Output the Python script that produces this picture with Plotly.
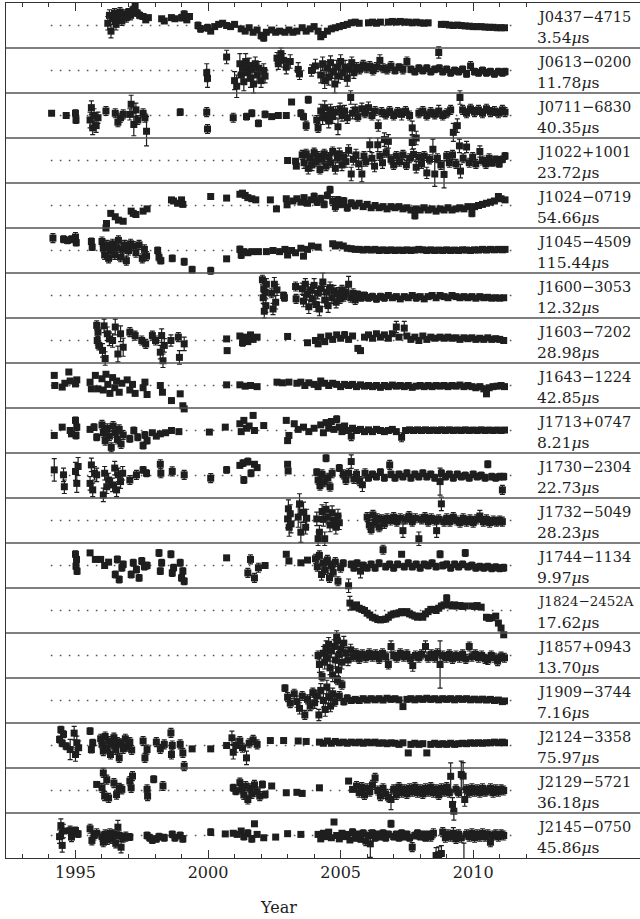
import plotly.graph_objects as go

# Pulsar names and residual scale labels (top to bottom)
PULSARS = ["J0437\u22124715", "J0613\u22120200", "J0711\u22126830", "J1022+1001",
           "J1024\u22120719", "J1045\u22124509", "J1600\u22123053", "J1603\u22127202",
           "J1643\u22121224", "J1713+0747", "J1730\u22122304", "J1732\u22125049",
           "J1744\u22121134", "J1824\u22122452A", "J1857+0943", "J1909\u22123744",
           "J2124\u22123358", "J2129\u22125721", "J2145\u22120750"]
SCALES_US = ["3.54", "11.78", "40.35", "23.72", "54.66", "115.44", "12.32", "28.98",
             "42.85", "8.21", "22.73", "28.23", "9.97", "17.62", "13.70", "7.16",
             "75.97", "36.18", "45.86"]

MAJOR_YEARS = [1995, 2000, 2005, 2010]
MINOR_YEARS = list(range(1993, 2013))

# Residuals per pulsar: (year, residual, error), residual in units of half panel height
J0437_4715 = [(1996.22,0.10,0.30),(1996.28,0.45,0.25),(1996.34,-0.25,0.3),(1996.40,0.30,0.25),(1996.47,0.55,0.2),(1996.53,0.05,0.25),(1996.60,0.35,0.2),(1996.68,0.60,0.2),(1996.75,0.20,0.2),(1996.83,0.50,0.2),(1996.92,0.35,0.2),(1997.00,0.60,0.15),(1997.08,0.45,0.2),(1997.17,0.70,0.15),(1997.25,0.85,0.15),(1997.33,0.55,0.15),(1997.42,0.45,0.15),(1997.55,0.40,0.1),(1997.65,0.25,0.1),(1997.75,0.35,0.1),(1998.25,0.30,0.1),(1998.35,0.20,0.1),(1998.62,0.35,0.1),(1998.75,0.30,0.1),(1999.00,0.35,0.15),(1999.10,0.50,0.15),(1999.20,0.25,0.1),(1999.30,0.40,0.1),(1999.62,0.00,0.15),(1999.72,-0.15,0.15),(1999.98,-0.10,0.15),(2000.10,-0.25,0.1),(2000.25,-0.05,0.1),(2000.40,0.05,0.1),(2000.55,0.10,0.1),(2000.70,0.00,0.1),(2000.85,-0.05,0.1),(2001.00,0.05,0.1),(2001.25,-0.15,0.1),(2001.40,-0.25,0.1),(2001.55,-0.10,0.1),(2001.70,-0.30,0.1),(2001.85,-0.20,0.1),(2002.00,-0.45,0.15),(2002.10,-0.55,0.15),(2002.20,-0.30,0.1),(2002.40,-0.20,0.1),(2002.55,-0.30,0.1),(2002.70,-0.25,0.1),(2002.90,-0.30,0.1),(2003.05,-0.20,0.1),(2003.20,-0.30,0.1),(2003.35,-0.25,0.1),(2003.55,-0.10,0.1),(2003.70,-0.25,0.1),(2003.85,-0.15,0.1),(2004.00,-0.05,0.1),(2004.15,-0.25,0.1),(2004.25,-0.50,0.1),(2004.35,-0.40,0.1),(2004.50,-0.25,0.1),(2004.65,-0.15,0.1),(2004.80,-0.10,0.1),(2004.95,-0.05,0.1),(2005.10,0.00,0.1),(2005.25,0.05,0.1),(2005.40,0.12,0.08),(2005.55,0.15,0.08),(2005.70,0.10,0.08),(2006.05,0.12,0.06),(2006.20,0.15,0.06),(2006.35,0.10,0.06),(2006.50,0.15,0.06),(2006.80,0.15,0.05),(2006.95,0.18,0.05),(2007.10,0.15,0.05),(2007.25,0.18,0.05),(2007.40,0.15,0.05),(2007.55,0.15,0.05),(2007.70,0.12,0.05),(2007.85,0.15,0.05),(2008.00,0.12,0.05),(2008.15,0.10,0.05),(2008.30,0.12,0.05),(2008.80,0.05,0.05),(2008.95,0.05,0.05),(2009.10,0.02,0.05),(2009.25,0.00,0.05),(2009.40,0.02,0.05),(2009.55,0.00,0.05),(2009.70,-0.02,0.05),(2009.85,-0.03,0.05),(2010.00,-0.05,0.05),(2010.15,-0.05,0.05),(2010.30,-0.05,0.05),(2010.45,-0.07,0.05),(2010.60,-0.08,0.05),(2010.75,-0.08,0.05),(2010.90,-0.10,0.05),(2011.05,-0.10,0.05),(2011.18,-0.10,0.05)]

J0613_0200 = [(1999.95,-0.10,0.4),(1999.98,-0.35,0.4),(2000.70,0.60,0.3),(2001.00,-0.45,0.4),(2001.08,-0.70,0.5),(2001.20,0.30,0.45),(2001.25,-0.20,0.4),(2001.30,0.10,0.3),(2001.35,-0.50,0.4),(2001.42,0.40,0.35),(2001.48,-0.10,0.3),(2001.55,0.20,0.35),(2001.60,-0.35,0.4),(2001.66,0.05,0.3),(2001.72,-0.60,0.4),(2001.78,0.30,0.3),(2001.85,-0.20,0.35),(2001.92,0.10,0.3),(2002.00,-0.45,0.3),(2002.10,0.00,0.3),(2002.15,-0.25,0.3),(2002.60,0.55,0.25),(2002.65,0.30,0.25),(2002.75,0.75,0.25),(2002.85,0.45,0.3),(2002.95,0.15,0.3),(2003.10,0.40,0.3),(2003.40,0.05,0.3),(2003.45,-0.15,0.25),(2003.90,0.00,0.25),(2004.05,0.20,0.3),(2004.25,-0.20,0.35),(2004.32,0.30,0.3),(2004.40,-0.45,0.35),(2004.48,0.10,0.3),(2004.55,-0.30,0.35),(2004.62,0.35,0.3),(2004.70,-0.05,0.3),(2004.78,-0.60,0.4),(2004.85,0.15,0.3),(2004.92,-0.25,0.3),(2005.00,0.40,0.3),(2005.08,-0.10,0.3),(2005.17,0.15,0.3),(2005.25,-0.35,0.35),(2005.33,0.05,0.25),(2005.42,0.35,0.25),(2005.50,-0.10,0.25),(2005.60,0.15,0.2),(2005.72,0.05,0.2),(2005.85,0.25,0.2),(2005.98,0.10,0.2),(2006.10,0.20,0.2),(2006.22,0.00,0.2),(2006.35,0.15,0.2),(2006.48,0.45,0.25),(2006.60,0.10,0.2),(2006.75,0.05,0.2),(2006.90,0.20,0.2),(2007.05,0.00,0.15),(2007.20,0.15,0.15),(2007.35,0.05,0.2),(2007.50,0.40,0.2),(2007.65,0.05,0.15),(2007.80,-0.05,0.15),(2007.95,0.10,0.15),(2008.10,0.00,0.15),(2008.25,0.10,0.15),(2008.40,-0.05,0.15),(2008.55,0.05,0.15),(2008.70,0.80,0.25),(2008.72,0.10,0.15),(2008.85,-0.05,0.15),(2009.00,0.05,0.15),(2009.15,-0.10,0.15),(2009.30,0.00,0.15),(2009.45,-0.05,0.15),(2009.60,0.05,0.15),(2009.75,-0.15,0.15),(2009.90,0.20,0.2),(2010.05,-0.05,0.15),(2010.20,-0.10,0.15),(2010.35,0.00,0.15),(2010.50,-0.10,0.15),(2010.65,-0.05,0.15),(2010.80,-0.15,0.15),(2010.95,-0.05,0.15),(2011.10,-0.10,0.15),(2011.20,-0.05,0.15)]

J0711_6830 = [(1994.10,0.10,0.1),(1994.65,0.00,0.1),(1995.00,0.10,0.15),(1995.02,-0.20,0.15),(1995.55,-0.20,0.35),(1995.60,0.35,0.3),(1995.65,-0.55,0.3),(1995.70,0.00,0.3),(1995.78,-0.45,0.3),(1995.85,-0.10,0.25),(1996.15,0.20,0.2),(1996.50,0.10,0.2),(1996.60,-0.30,0.2),(1996.70,-0.10,0.2),(1996.80,0.05,0.2),(1997.05,0.05,0.25),(1997.10,0.50,0.4),(1997.20,-0.40,0.5),(1997.28,0.25,0.3),(1997.35,-0.20,0.2),(1997.55,0.10,0.2),(1997.62,-0.10,0.2),(1997.68,-0.70,0.65),(1998.95,0.15,0.15),(1999.95,0.15,0.2),(1999.98,-0.60,0.2),(2000.95,-0.10,0.2),(2001.45,-0.05,0.15),(2001.65,0.10,0.15),(2001.90,-0.35,0.15),(2002.15,0.05,0.15),(2002.40,-0.05,0.1),(2002.65,0.00,0.1),(2002.95,0.00,0.1),(2003.15,0.60,0.1),(2003.50,0.10,0.15),(2003.60,-0.05,0.15),(2003.70,-0.45,0.2),(2003.78,0.70,0.15),(2004.10,-0.20,0.2),(2004.15,-0.55,0.2),(2004.25,0.20,0.3),(2004.32,-0.10,0.3),(2004.40,0.35,0.3),(2004.48,0.00,0.25),(2004.55,-0.25,0.3),(2004.62,0.25,0.25),(2004.70,-0.05,0.3),(2004.80,0.15,0.25),(2004.90,-0.50,0.35),(2004.98,0.30,0.25),(2005.05,0.00,0.25),(2005.15,0.20,0.25),(2005.25,-0.10,0.25),(2005.38,0.80,0.3),(2005.45,0.10,0.25),(2005.55,0.25,0.25),(2005.65,-0.05,0.2),(2005.80,0.30,0.25),(2005.92,0.10,0.2),(2006.05,0.35,0.25),(2006.18,0.00,0.2),(2006.30,0.20,0.2),(2006.42,-0.45,0.25),(2006.55,0.15,0.2),(2006.70,0.05,0.2),(2006.85,0.20,0.2),(2007.00,0.00,0.2),(2007.15,0.15,0.2),(2007.30,0.05,0.25),(2007.45,0.20,0.2),(2007.60,0.00,0.2),(2007.70,-0.55,0.3),(2007.85,-1.00,0.3),(2007.95,0.10,0.2),(2008.10,0.20,0.2),(2008.25,0.00,0.2),(2008.40,0.15,0.2),(2008.55,0.05,0.2),(2008.70,0.20,0.25),(2008.85,0.00,0.2),(2009.00,0.10,0.2),(2009.15,0.25,0.2),(2009.25,-0.75,0.4),(2009.40,-0.45,0.3),(2009.50,0.80,0.3),(2009.60,0.25,0.2),(2009.75,0.10,0.2),(2009.90,0.30,0.2),(2010.05,0.15,0.2),(2010.20,0.25,0.2),(2010.35,0.10,0.2),(2010.50,0.30,0.2),(2010.65,0.15,0.2),(2010.80,0.20,0.2),(2010.95,0.10,0.2),(2011.10,0.25,0.2),(2011.20,0.15,0.2)]

J1022_1001 = [(2003.00,0.00,0.1),(2003.30,-0.03,0.1),(2003.33,-0.25,0.1),(2003.55,0.25,0.2),(2003.62,-0.10,0.25),(2003.70,0.30,0.2),(2003.78,-0.35,0.25),(2003.85,0.10,0.2),(2003.92,-0.20,0.25),(2004.00,0.35,0.2),(2004.08,-0.05,0.2),(2004.15,0.20,0.2),(2004.22,-0.40,0.2),(2004.30,0.05,0.2),(2004.38,0.30,0.2),(2004.45,-0.25,0.2),(2004.55,0.15,0.2),(2004.62,-0.10,0.2),(2004.70,0.40,0.2),(2004.80,-0.35,0.25),(2004.88,0.10,0.2),(2004.95,0.30,0.25),(2005.05,-0.20,0.25),(2005.12,0.15,0.2),(2005.20,-0.05,0.25),(2005.30,0.45,0.25),(2005.40,-0.60,0.3),(2005.48,0.05,0.25),(2005.58,0.25,0.25),(2005.68,-0.15,0.25),(2005.80,-0.60,0.35),(2005.88,0.20,0.2),(2005.95,-0.05,0.2),(2006.10,0.70,0.3),(2006.18,0.10,0.25),(2006.28,-0.25,0.25),(2006.40,0.70,0.3),(2006.48,0.20,0.2),(2006.58,-0.10,0.25),(2006.65,0.93,0.3),(2006.72,0.35,0.2),(2006.80,0.85,0.3),(2006.90,0.05,0.2),(2007.00,-0.20,0.2),(2007.10,0.20,0.2),(2007.22,-0.05,0.2),(2007.35,0.25,0.2),(2007.48,-0.20,0.2),(2007.60,0.10,0.2),(2007.70,0.80,0.3),(2007.75,0.27,0.25),(2007.85,-0.30,0.25),(2007.95,0.15,0.2),(2008.05,-0.15,0.2),(2008.15,0.20,0.2),(2008.25,-0.55,0.25),(2008.35,0.05,0.2),(2008.48,0.50,0.45),(2008.55,-0.60,0.55),(2008.65,0.10,0.2),(2008.78,-0.20,0.2),(2008.90,-0.62,0.6),(2009.00,0.20,0.2),(2009.10,-0.10,0.2),(2009.22,0.25,0.2),(2009.35,-0.15,0.2),(2009.48,0.65,0.3),(2009.52,-0.47,0.3),(2009.62,0.10,0.2),(2009.75,0.60,0.25),(2009.85,-0.10,0.2),(2009.98,0.15,0.2),(2010.10,-0.15,0.2),(2010.25,0.40,0.25),(2010.35,0.00,0.2),(2010.48,-0.15,0.2),(2010.60,0.10,0.2),(2010.72,-0.10,0.15),(2010.85,0.05,0.15),(2010.98,-0.15,0.15),(2011.10,0.05,0.15),(2011.20,0.20,0.15)]

J1024_0719 = [(1996.15,-1.00,0.1),(1996.17,-0.80,0.1),(1996.33,-0.35,0.1),(1996.50,-0.50,0.1),(1996.62,-0.65,0.1),(1996.80,-0.70,0.1),(1997.10,-0.25,0.1),(1997.18,-0.35,0.1),(1997.28,-0.40,0.1),(1997.55,-0.25,0.1),(1997.70,-0.15,0.1),(1998.62,0.25,0.1),(1998.70,0.20,0.1),(1998.85,0.10,0.1),(1999.00,0.25,0.1),(1999.05,0.05,0.1),(2000.10,0.40,0.1),(2000.70,0.33,0.1),(2001.20,0.50,0.1),(2001.30,0.55,0.1),(2001.40,0.45,0.1),(2001.50,0.35,0.1),(2001.65,0.30,0.1),(2001.80,0.25,0.1),(2002.35,0.25,0.1),(2002.58,-0.15,0.1),(2002.95,0.30,0.1),(2002.98,0.03,0.1),(2003.20,0.20,0.1),(2003.35,0.30,0.1),(2003.50,0.15,0.1),(2003.62,0.35,0.1),(2003.75,0.10,0.1),(2003.88,0.25,0.1),(2004.00,0.40,0.15),(2004.12,0.15,0.15),(2004.25,0.30,0.15),(2004.38,0.05,0.15),(2004.50,0.45,0.15),(2004.60,0.70,0.15),(2004.70,0.20,0.2),(2004.80,-0.05,0.2),(2004.90,0.25,0.15),(2005.00,0.05,0.15),(2005.12,0.20,0.15),(2005.25,-0.10,0.15),(2005.40,0.10,0.15),(2005.55,0.00,0.15),(2005.70,0.10,0.1),(2005.85,-0.05,0.1),(2006.00,0.05,0.1),(2006.15,-0.10,0.1),(2006.30,0.00,0.1),(2006.45,-0.10,0.1),(2006.60,-0.05,0.1),(2006.75,-0.15,0.1),(2006.90,-0.05,0.1),(2007.05,-0.10,0.1),(2007.20,-0.05,0.1),(2007.35,-0.15,0.1),(2007.50,-0.10,0.1),(2007.65,-0.20,0.1),(2007.80,-0.45,0.15),(2007.85,-0.15,0.1),(2008.00,-0.20,0.1),(2008.15,-0.10,0.1),(2008.30,-0.20,0.1),(2008.45,-0.15,0.1),(2008.60,-0.25,0.1),(2008.75,-0.15,0.1),(2008.90,-0.20,0.1),(2009.05,-0.10,0.1),(2009.20,-0.20,0.1),(2009.35,-0.15,0.1),(2009.50,-0.10,0.1),(2009.65,-0.15,0.1),(2009.80,-0.05,0.1),(2009.95,-0.35,0.15),(2010.05,-0.05,0.1),(2010.20,0.00,0.1),(2010.35,0.05,0.1),(2010.50,0.10,0.1),(2010.65,0.15,0.1),(2010.80,0.20,0.1),(2010.95,0.40,0.1),(2011.05,0.30,0.1),(2011.20,0.25,0.1)]

J1045_4509 = [(1994.15,0.55,0.2),(1994.55,0.50,0.15),(1994.70,0.45,0.15),(1994.85,0.50,0.15),(1995.00,0.60,0.2),(1995.03,0.35,0.15),(1995.60,0.40,0.15),(1995.63,0.15,0.15),(1996.00,0.40,0.2),(1996.05,0.10,0.2),(1996.10,-0.20,0.2),(1996.18,0.25,0.2),(1996.25,-0.35,0.2),(1996.32,0.00,0.2),(1996.40,0.30,0.2),(1996.48,-0.20,0.2),(1996.55,0.10,0.2),(1996.62,0.45,0.2),(1996.70,-0.30,0.2),(1996.78,0.05,0.2),(1996.85,0.25,0.2),(1996.92,-0.45,0.2),(1997.00,0.00,0.2),(1997.08,0.30,0.2),(1997.18,0.20,0.2),(1997.28,-0.10,0.2),(1997.40,0.25,0.2),(1997.52,-0.35,0.2),(1997.60,0.05,0.2),(1997.68,-0.25,0.2),(1998.10,0.00,0.15),(1998.15,-0.30,0.2),(1998.22,-0.45,0.15),(1998.65,-0.35,0.15),(1999.10,-0.50,0.15),(1999.40,-0.85,0.15),(2000.10,-0.90,0.15),(2000.70,-0.37,0.1),(2001.20,0.05,0.15),(2001.25,-0.20,0.15),(2001.35,-0.05,0.1),(2001.50,-0.10,0.1),(2001.65,-0.05,0.1),(2001.90,-0.05,0.1),(2002.20,-0.05,0.1),(2002.45,0.00,0.1),(2002.70,-0.05,0.1),(2002.90,0.05,0.1),(2003.00,-0.20,0.1),(2003.15,0.00,0.1),(2003.30,-0.10,0.1),(2003.50,0.10,0.1),(2003.60,-0.25,0.1),(2003.75,0.05,0.1),(2003.90,0.20,0.1),(2004.15,0.15,0.1),(2004.70,0.30,0.05),(2004.80,0.20,0.05),(2004.95,0.25,0.05),(2005.10,0.20,0.05),(2005.25,0.10,0.05),(2005.40,0.08,0.05),(2005.55,0.05,0.05),(2005.70,0.05,0.05),(2005.85,0.02,0.05),(2006.00,0.05,0.05),(2006.15,0.02,0.05),(2006.30,0.05,0.05),(2006.45,0.00,0.05),(2006.60,0.03,0.05),(2006.75,0.00,0.05),(2006.90,0.03,0.05),(2007.05,0.00,0.05),(2007.20,0.02,0.05),(2007.35,0.00,0.05),(2007.50,0.03,0.05),(2007.65,0.00,0.05),(2007.80,0.02,0.05),(2007.95,0.05,0.05),(2008.10,0.03,0.05),(2008.25,0.00,0.05),(2008.40,0.03,0.05),(2008.55,0.00,0.05),(2008.70,0.02,0.05),(2008.85,0.00,0.05),(2009.00,0.03,0.05),(2009.15,0.00,0.05),(2009.30,0.02,0.05),(2009.45,0.00,0.05),(2009.60,0.03,0.05),(2009.75,0.02,0.05),(2009.90,0.00,0.05),(2010.05,0.03,0.05),(2010.20,0.02,0.05),(2010.35,0.05,0.05),(2010.50,0.02,0.05),(2010.65,0.05,0.05),(2010.80,0.03,0.05),(2010.95,0.05,0.05),(2011.10,0.03,0.05),(2011.20,0.05,0.05)]

J1600_3053 = [(2002.05,0.70,0.2),(2002.08,-0.10,0.25),(2002.10,0.30,0.3),(2002.12,-0.70,0.3),(2002.15,0.15,0.25),(2002.18,-0.45,0.3),(2002.20,0.50,0.25),(2002.40,0.10,0.2),(2002.45,-0.60,0.25),(2002.50,0.50,0.3),(2002.55,-0.30,0.3),(2002.60,0.25,0.25),(2002.85,0.00,0.15),(2002.88,-0.10,0.15),(2003.30,0.40,0.2),(2003.32,-0.15,0.2),(2003.55,0.30,0.25),(2003.60,-0.25,0.25),(2003.67,0.50,0.25),(2003.73,0.05,0.25),(2003.80,-0.50,0.3),(2003.87,0.25,0.25),(2003.93,-0.15,0.25),(2004.00,0.45,0.3),(2004.07,-0.40,0.3),(2004.13,0.10,0.25),(2004.20,-0.60,0.3),(2004.27,0.30,0.25),(2004.33,0.60,0.4),(2004.40,-0.20,0.3),(2004.47,0.15,0.25),(2004.53,-0.45,0.3),(2004.60,0.35,0.25),(2004.67,-0.10,0.25),(2004.75,0.20,0.25),(2004.83,-0.30,0.25),(2004.90,0.10,0.25),(2004.98,-0.15,0.2),(2005.05,0.25,0.2),(2005.12,-0.05,0.2),(2005.20,0.15,0.2),(2005.30,0.50,0.35),(2005.38,-0.10,0.2),(2005.47,0.10,0.2),(2005.55,-0.20,0.2),(2005.65,0.05,0.15),(2005.78,-0.10,0.15),(2005.90,0.00,0.15),(2006.05,-0.10,0.15),(2006.20,-0.05,0.15),(2006.35,-0.15,0.15),(2006.50,-0.05,0.15),(2006.65,-0.10,0.15),(2006.80,0.00,0.1),(2006.95,-0.10,0.1),(2007.10,-0.05,0.1),(2007.25,-0.15,0.1),(2007.40,-0.05,0.1),(2007.55,-0.10,0.1),(2007.70,0.00,0.1),(2007.85,-0.10,0.15),(2008.00,-0.05,0.1),(2008.15,-0.15,0.1),(2008.30,-0.05,0.1),(2008.45,0.00,0.1),(2008.60,-0.10,0.1),(2008.75,0.00,0.1),(2008.90,-0.05,0.1),(2009.05,-0.10,0.1),(2009.20,0.00,0.1),(2009.35,-0.05,0.1),(2009.50,-0.10,0.1),(2009.65,-0.05,0.1),(2009.80,-0.10,0.1),(2009.95,-0.05,0.1),(2010.10,-0.12,0.1),(2010.25,-0.05,0.1),(2010.40,-0.10,0.1),(2010.55,-0.08,0.1),(2010.70,-0.12,0.1),(2010.85,-0.10,0.1),(2011.00,-0.12,0.1),(2011.15,-0.10,0.1)]

J1603_7202 = [(1995.80,0.67,0.2),(1995.82,0.00,0.2),(1995.85,0.37,0.2),(1995.88,-0.22,0.2),(1996.02,-0.44,0.3),(1996.08,0.65,0.3),(1996.12,-0.80,0.3),(1996.20,0.30,0.3),(1996.28,0.07,0.3),(1996.40,0.00,0.3),(1996.50,0.60,0.35),(1996.60,-0.60,0.35),(1996.70,0.30,0.35),(1996.80,-0.30,0.4),(1997.05,0.37,0.2),(1997.25,0.22,0.2),(1997.50,0.00,0.2),(1997.65,-0.15,0.2),(1997.90,0.22,0.2),(1998.02,0.00,0.2),(1998.20,-0.52,0.3),(1998.25,0.22,0.3),(1998.30,-0.90,0.3),(1998.35,-0.22,0.3),(1998.60,0.00,0.25),(1998.88,0.15,0.2),(1998.92,-0.75,0.3),(1999.10,-0.15,0.3),(2000.70,0.07,0.1),(2000.72,-0.45,0.1),(2001.20,0.20,0.1),(2001.30,-0.10,0.15),(2001.40,0.15,0.1),(2001.50,-0.05,0.1),(2001.60,0.25,0.1),(2001.70,0.05,0.1),(2001.85,0.15,0.1),(2003.00,0.18,0.1),(2003.75,-0.10,0.1),(2004.05,0.00,0.1),(2004.15,-0.15,0.1),(2004.25,0.15,0.1),(2004.40,-0.05,0.1),(2004.55,0.20,0.1),(2004.70,0.05,0.1),(2004.85,0.25,0.1),(2005.00,0.10,0.1),(2005.15,0.25,0.15),(2005.30,0.05,0.1),(2005.45,0.20,0.1),(2005.65,-0.35,0.1),(2005.75,-0.45,0.1),(2005.90,0.15,0.1),(2006.05,0.25,0.1),(2006.20,0.10,0.1),(2006.35,0.30,0.1),(2006.50,0.15,0.1),(2006.65,0.25,0.1),(2006.80,0.10,0.1),(2006.95,0.30,0.1),(2007.10,0.60,0.25),(2007.20,0.15,0.1),(2007.40,0.55,0.3),(2007.50,0.20,0.1),(2007.65,0.05,0.1),(2007.80,0.15,0.1),(2007.95,0.00,0.1),(2008.10,0.20,0.1),(2008.25,0.05,0.1),(2008.40,0.15,0.1),(2008.55,0.10,0.1),(2008.75,0.15,0.1),(2008.90,0.10,0.1),(2009.05,0.15,0.1),(2009.20,0.10,0.1),(2009.35,0.12,0.1),(2009.50,0.05,0.1),(2009.65,0.12,0.1),(2009.80,0.08,0.1),(2009.95,0.12,0.1),(2010.10,0.05,0.1),(2010.25,0.10,0.1),(2010.40,0.05,0.1),(2010.55,0.12,0.1),(2010.70,0.05,0.1),(2010.85,0.08,0.1),(2011.00,0.05,0.1),(2011.15,0.00,0.1)]

J1643_1224 = [(1994.20,0.45,0.1),(1994.22,0.00,0.1),(1994.50,-0.07,0.1),(1994.60,0.10,0.1),(1994.75,0.60,0.1),(1994.80,0.20,0.1),(1995.00,0.07,0.1),(1995.05,0.25,0.1),(1995.55,0.15,0.1),(1995.60,-0.15,0.1),(1995.75,0.45,0.1),(1995.85,-0.15,0.1),(1996.00,0.30,0.1),(1996.05,-0.20,0.1),(1996.15,0.50,0.1),(1996.22,0.05,0.1),(1996.30,-0.35,0.1),(1996.40,0.35,0.1),(1996.48,-0.10,0.1),(1996.55,0.20,0.1),(1996.65,-0.30,0.1),(1996.75,0.10,0.1),(1996.95,0.25,0.1),(1997.05,-0.20,0.1),(1997.15,0.05,0.1),(1997.25,-0.35,0.1),(1997.55,-0.10,0.1),(1997.62,0.15,0.1),(1997.70,-0.40,0.1),(1998.20,0.00,0.1),(1998.28,-0.30,0.1),(1998.62,-0.67,0.1),(1998.95,-0.37,0.1),(1999.05,-0.90,0.1),(1999.10,-1.04,0.1),(2000.70,0.03,0.1),(2001.20,0.03,0.1),(2001.40,-0.03,0.1),(2001.60,0.00,0.1),(2001.85,-0.05,0.1),(2002.60,0.15,0.1),(2002.80,0.12,0.1),(2003.05,0.15,0.1),(2003.35,0.10,0.1),(2003.50,0.15,0.1),(2003.65,0.00,0.1),(2003.80,0.12,0.1),(2004.00,0.05,0.1),(2004.15,-0.05,0.1),(2004.25,0.20,0.1),(2004.40,0.10,0.1),(2004.55,0.00,0.1),(2004.70,0.10,0.1),(2004.85,0.05,0.1),(2005.00,-0.05,0.1),(2005.15,0.05,0.1),(2005.30,0.00,0.1),(2005.45,0.05,0.1),(2005.60,-0.05,0.1),(2005.75,0.03,0.1),(2005.90,-0.03,0.1),(2006.05,0.00,0.1),(2006.20,-0.05,0.1),(2006.35,0.00,0.1),(2006.50,-0.08,0.1),(2006.65,0.00,0.1),(2006.80,-0.05,0.1),(2006.95,0.02,0.1),(2007.10,-0.03,0.1),(2007.25,0.00,0.1),(2007.40,-0.05,0.1),(2007.55,0.00,0.1),(2007.70,-0.08,0.1),(2007.85,-0.03,0.1),(2008.00,0.00,0.1),(2008.15,-0.05,0.1),(2008.30,0.00,0.1),(2008.45,-0.05,0.1),(2008.60,0.00,0.1),(2008.75,-0.03,0.1),(2008.90,0.00,0.1),(2009.05,-0.05,0.1),(2009.20,0.00,0.1),(2009.35,-0.03,0.1),(2009.50,0.02,0.1),(2009.65,-0.05,0.1),(2009.80,0.00,0.1),(2009.95,-0.05,0.1),(2010.10,-0.10,0.1),(2010.25,-0.05,0.1),(2010.40,-0.15,0.1),(2010.50,-0.37,0.1),(2010.60,-0.10,0.1),(2010.75,-0.05,0.1),(2010.90,-0.03,0.1),(2011.05,0.00,0.1),(2011.18,-0.05,0.1)]

J1713_0747 = [(1994.20,-0.22,0.1),(1994.50,0.15,0.1),(1994.80,0.00,0.1),(1994.85,-0.15,0.1),(1995.00,0.45,0.15),(1995.02,-0.22,0.15),(1995.05,0.15,0.15),(1995.55,0.05,0.1),(1995.70,0.15,0.15),(1995.80,-0.30,0.15),(1996.00,0.25,0.2),(1996.05,-0.10,0.2),(1996.12,-0.45,0.2),(1996.20,0.10,0.2),(1996.28,-0.25,0.2),(1996.35,-0.75,0.2),(1996.42,0.20,0.2),(1996.50,-0.10,0.2),(1996.58,-0.40,0.2),(1996.65,0.05,0.2),(1996.72,-0.60,0.2),(1996.80,-0.20,0.2),(1997.05,-0.37,0.15),(1997.20,0.00,0.15),(1997.35,-0.30,0.15),(1997.55,-0.67,0.15),(1997.62,-0.20,0.15),(1997.70,-0.45,0.15),(1997.90,-0.10,0.1),(1998.05,-0.25,0.1),(1998.20,-0.15,0.1),(1998.40,-0.10,0.1),(1998.62,0.00,0.1),(1998.90,-0.05,0.1),(2000.05,-0.07,0.1),(2000.65,0.15,0.1),(2001.20,0.30,0.1),(2001.25,-0.05,0.1),(2001.35,0.45,0.1),(2001.45,0.10,0.1),(2001.55,0.20,0.1),(2001.70,0.67,0.1),(2001.75,0.00,0.1),(2002.10,0.22,0.1),(2002.95,0.45,0.1),(2003.00,-0.45,0.1),(2003.05,-0.22,0.1),(2003.25,0.30,0.1),(2003.40,0.05,0.1),(2003.60,0.15,0.1),(2003.80,-0.05,0.1),(2004.00,0.10,0.1),(2004.25,0.25,0.1),(2004.35,-0.10,0.1),(2004.45,0.35,0.1),(2004.55,0.10,0.1),(2004.65,0.40,0.1),(2004.75,0.05,0.1),(2004.85,0.50,0.15),(2004.95,0.15,0.1),(2005.05,-0.05,0.1),(2005.15,0.20,0.1),(2005.25,0.00,0.1),(2005.40,-0.25,0.2),(2005.45,0.10,0.1),(2005.60,0.00,0.1),(2005.75,0.05,0.1),(2005.90,-0.05,0.1),(2006.05,0.03,0.1),(2006.20,-0.05,0.1),(2006.35,0.05,0.1),(2006.50,0.00,0.1),(2006.65,-0.05,0.1),(2006.80,0.00,0.1),(2006.95,0.05,0.1),(2007.10,-0.05,0.1),(2007.30,-0.30,0.2),(2007.45,0.00,0.05),(2007.60,0.03,0.05),(2007.75,0.00,0.05),(2007.90,0.03,0.05),(2008.05,0.00,0.05),(2008.20,0.03,0.05),(2008.35,0.00,0.05),(2008.50,0.02,0.05),(2008.65,0.00,0.05),(2008.80,0.03,0.05),(2008.95,0.00,0.05),(2009.10,0.03,0.05),(2009.25,0.00,0.05),(2009.40,0.02,0.05),(2009.55,0.00,0.05),(2009.70,0.03,0.05),(2009.85,0.00,0.05),(2010.00,0.02,0.05),(2010.15,0.00,0.05),(2010.30,0.03,0.05),(2010.45,0.00,0.05),(2010.60,0.02,0.05),(2010.75,0.00,0.05),(2010.90,0.02,0.05),(2011.05,0.00,0.05),(2011.18,0.02,0.05)]

J1730_2304 = [(1994.20,0.25,0.5),(1994.55,0.03,0.3),(1994.58,-0.50,0.3),(1995.00,0.18,0.4),(1995.05,-0.35,0.4),(1995.10,0.40,0.4),(1995.55,-0.35,0.3),(1995.60,0.47,0.3),(1995.65,-0.64,0.3),(1995.72,0.10,0.3),(1995.80,0.03,0.3),(1996.05,-0.86,0.3),(1996.10,0.10,0.3),(1996.18,-0.50,0.3),(1996.25,-0.20,0.3),(1996.40,-0.42,0.3),(1996.48,0.33,0.3),(1996.55,-0.64,0.3),(1996.62,0.03,0.3),(1996.70,-0.27,0.3),(1996.78,0.10,0.3),(1997.05,-0.20,0.2),(1997.30,0.03,0.2),(1997.55,0.25,0.15),(1997.68,0.10,0.15),(1998.20,0.50,0.2),(1998.22,0.10,0.2),(1998.65,0.18,0.2),(1999.10,0.03,0.2),(2000.10,-0.12,0.2),(2000.70,0.25,0.15),(2001.20,0.45,0.1),(2001.32,0.55,0.15),(2001.35,-0.20,0.15),(2001.50,0.62,0.15),(2001.62,0.10,0.15),(2001.75,0.50,0.1),(2001.85,0.35,0.1),(2003.00,0.50,0.1),(2003.02,0.20,0.1),(2004.10,0.15,0.15),(2004.15,-0.20,0.2),(2004.22,-0.45,0.2),(2004.30,0.05,0.2),(2004.38,-0.30,0.2),(2004.45,0.77,0.15),(2004.52,-0.10,0.2),(2004.60,-0.50,0.2),(2004.68,0.10,0.2),(2004.95,0.33,0.15),(2005.10,0.05,0.2),(2005.20,-0.20,0.2),(2005.30,0.10,0.2),(2005.40,0.62,0.3),(2005.50,-0.15,0.2),(2005.60,0.05,0.2),(2005.72,-0.25,0.2),(2005.82,-0.41,0.3),(2005.92,0.10,0.2),(2006.05,-0.10,0.15),(2006.20,0.05,0.15),(2006.35,-0.05,0.15),(2006.50,0.15,0.15),(2006.65,-0.10,0.15),(2006.85,0.47,0.2),(2006.90,0.05,0.15),(2007.05,-0.10,0.15),(2007.20,0.05,0.15),(2007.35,-0.05,0.15),(2007.50,0.10,0.15),(2007.65,-0.10,0.15),(2007.80,0.05,0.15),(2007.95,-0.05,0.15),(2008.10,0.10,0.15),(2008.25,-0.05,0.15),(2008.40,0.05,0.15),(2008.55,-0.10,0.15),(2008.75,-0.27,0.6),(2008.80,0.10,0.15),(2008.95,-0.05,0.15),(2009.10,0.05,0.15),(2009.25,-0.10,0.15),(2009.40,0.05,0.15),(2009.55,-0.05,0.15),(2009.70,0.00,0.15),(2009.85,-0.10,0.15),(2010.00,0.05,0.15),(2010.15,-0.05,0.15),(2010.30,0.00,0.15),(2010.45,-0.10,0.15),(2010.55,0.50,0.15),(2010.70,-0.05,0.15),(2010.85,-0.10,0.15),(2011.00,-0.05,0.15),(2011.10,-0.64,0.2),(2011.15,-0.05,0.15)]

J1732_5049 = [(2003.00,0.07,0.4),(2003.03,0.52,0.4),(2003.06,-0.30,0.4),(2003.10,0.30,0.4),(2003.13,-0.15,0.4),(2003.40,0.15,0.45),(2003.45,0.74,0.45),(2003.50,-0.52,0.45),(2003.60,0.37,0.45),(2003.68,-0.30,0.3),(2003.72,0.10,0.4),(2004.10,0.07,0.3),(2004.15,-0.81,0.3),(2004.20,-0.52,0.3),(2004.30,0.40,0.3),(2004.35,0.05,0.3),(2004.40,-0.81,0.3),(2004.45,0.50,0.3),(2004.52,0.15,0.3),(2004.60,-0.20,0.3),(2004.68,0.35,0.3),(2004.75,0.00,0.3),(2004.82,-0.30,0.3),(2004.90,0.20,0.3),(2004.95,-0.10,0.3),(2006.00,0.15,0.2),(2006.08,-0.20,0.2),(2006.15,-0.40,0.2),(2006.22,0.25,0.2),(2006.30,-0.10,0.2),(2006.38,0.10,0.2),(2006.45,-0.30,0.2),(2006.55,0.05,0.2),(2006.65,-0.15,0.2),(2006.75,0.10,0.2),(2006.88,0.00,0.2),(2007.00,0.15,0.2),(2007.12,-0.05,0.2),(2007.25,0.10,0.2),(2007.35,-0.45,0.3),(2007.45,0.05,0.2),(2007.58,0.20,0.2),(2007.70,-0.05,0.2),(2007.82,0.10,0.2),(2007.95,-0.81,0.3),(2008.05,0.05,0.2),(2008.18,0.15,0.2),(2008.30,-0.05,0.2),(2008.42,0.10,0.2),(2008.55,0.00,0.2),(2008.62,-0.45,0.3),(2008.70,0.05,0.2),(2008.80,0.74,0.3),(2008.90,-0.05,0.2),(2009.00,0.10,0.2),(2009.12,-0.05,0.2),(2009.25,0.15,0.2),(2009.38,0.00,0.2),(2009.50,-0.10,0.2),(2009.62,0.10,0.2),(2009.75,-0.05,0.2),(2009.88,0.05,0.2),(2010.00,-0.10,0.2),(2010.12,0.05,0.2),(2010.25,0.20,0.25),(2010.38,-0.05,0.2),(2010.50,0.05,0.2),(2010.62,-0.10,0.2),(2010.75,0.00,0.2),(2010.88,-0.05,0.2),(2011.00,0.00,0.2),(2011.10,-0.05,0.2)]

J1744_1134 = [(1995.00,0.50,0.15),(1995.02,-0.03,0.15),(1995.04,0.27,0.15),(1995.06,-0.25,0.15),(1995.55,0.56,0.1),(1995.75,0.27,0.1),(1995.95,0.27,0.1),(1996.10,0.00,0.1),(1996.25,0.15,0.1),(1996.50,-0.40,0.15),(1996.58,0.27,0.15),(1996.65,-0.62,0.15),(1996.75,-0.10,0.15),(1996.80,0.05,0.15),(1997.10,-0.40,0.15),(1997.18,0.12,0.15),(1997.30,-0.18,0.15),(1997.40,-0.55,0.15),(1997.50,0.20,0.15),(1997.60,-0.05,0.15),(1997.70,0.00,0.15),(1998.15,0.56,0.15),(1998.20,-0.25,0.15),(1998.25,0.12,0.15),(1998.60,0.50,0.15),(1998.65,-0.33,0.15),(1998.70,-0.10,0.15),(1998.95,0.12,0.15),(1999.00,-0.55,0.15),(1999.05,-0.25,0.15),(1999.10,-0.70,0.15),(2000.70,0.34,0.1),(2001.50,-0.33,0.2),(2001.60,0.27,0.2),(2001.75,-0.55,0.2),(2001.90,-0.10,0.2),(2002.15,0.00,0.1),(2002.95,0.50,0.1),(2003.05,0.20,0.1),(2003.50,0.12,0.1),(2003.75,0.24,0.1),(2004.05,0.30,0.2),(2004.12,-0.05,0.2),(2004.20,0.45,0.2),(2004.28,-0.40,0.25),(2004.35,0.10,0.2),(2004.42,-0.20,0.2),(2004.50,0.25,0.2),(2004.58,-0.55,0.2),(2004.65,0.00,0.2),(2004.72,-0.30,0.2),(2004.80,0.15,0.2),(2004.90,-0.70,0.2),(2005.00,-0.10,0.2),(2005.10,0.10,0.15),(2005.30,-0.90,0.3),(2005.40,0.05,0.15),(2005.50,-0.10,0.15),(2005.62,0.10,0.15),(2005.75,-0.25,0.3),(2005.85,0.00,0.15),(2006.00,-0.10,0.15),(2006.15,0.05,0.15),(2006.30,-0.10,0.15),(2006.45,0.10,0.15),(2006.60,0.70,0.2),(2006.70,-0.05,0.15),(2006.85,0.05,0.15),(2007.00,-0.10,0.15),(2007.15,0.05,0.15),(2007.30,0.50,0.1),(2007.40,-0.05,0.15),(2007.55,0.10,0.15),(2007.70,-0.05,0.15),(2007.85,0.05,0.15),(2008.00,-0.10,0.15),(2008.15,0.05,0.15),(2008.30,0.00,0.15),(2008.45,0.10,0.15),(2008.60,-0.05,0.15),(2008.75,0.50,0.15),(2008.85,0.00,0.15),(2009.00,0.05,0.15),(2009.15,-0.10,0.15),(2009.30,0.05,0.15),(2009.45,-0.05,0.15),(2009.60,0.05,0.15),(2009.70,0.56,0.15),(2009.80,-0.05,0.15),(2009.95,0.00,0.15),(2010.10,-0.10,0.15),(2010.25,-0.05,0.15),(2010.40,-0.10,0.15),(2010.55,-0.05,0.15),(2010.70,-0.12,0.15),(2010.85,-0.08,0.15),(2011.00,-0.12,0.15),(2011.15,-0.10,0.15)]

J1824_2452A = [(2005.35,0.33,0.3),(2005.50,0.15,0.1),(2005.60,0.25,0.1),(2005.70,0.10,0.1),(2005.80,0.05,0.1),(2005.90,0.00,0.1),(2006.00,-0.12,0.1),(2006.10,-0.20,0.1),(2006.20,-0.30,0.1),(2006.30,-0.34,0.1),(2006.40,-0.40,0.1),(2006.50,-0.42,0.1),(2006.60,-0.40,0.1),(2006.70,-0.38,0.1),(2006.80,-0.30,0.1),(2006.90,-0.20,0.1),(2007.00,-0.15,0.1),(2007.10,-0.15,0.1),(2007.20,-0.10,0.1),(2007.30,-0.05,0.1),(2007.40,-0.10,0.1),(2007.50,-0.05,0.1),(2007.60,-0.15,0.1),(2007.70,-0.20,0.1),(2007.80,-0.25,0.1),(2007.90,-0.30,0.1),(2008.00,-0.25,0.1),(2008.10,-0.30,0.1),(2008.20,-0.15,0.1),(2008.30,-0.05,0.1),(2008.40,0.05,0.1),(2008.50,0.05,0.1),(2008.60,0.00,0.1),(2008.70,0.10,0.1),(2008.80,0.20,0.1),(2008.90,0.25,0.1),(2009.00,0.55,0.15),(2009.10,0.25,0.1),(2009.20,0.20,0.1),(2009.30,0.25,0.1),(2009.40,0.20,0.1),(2009.50,0.22,0.1),(2009.60,0.18,0.1),(2009.70,0.20,0.1),(2009.95,0.20,0.1),(2010.05,0.18,0.1),(2010.15,0.22,0.1),(2010.30,0.15,0.1),(2010.50,-0.30,0.1),(2010.60,-0.35,0.1),(2010.70,-0.32,0.1),(2010.85,-0.25,0.1),(2010.95,-0.56,0.1),(2011.05,-0.78,0.1),(2011.15,-1.08,0.1)]

J1857_0943 = [(2004.15,0.00,0.2),(2004.20,-0.40,0.35),(2004.35,0.10,0.3),(2004.40,-0.30,0.3),(2004.45,0.35,0.3),(2004.50,-0.10,0.3),(2004.55,0.50,0.3),(2004.60,-0.55,0.3),(2004.65,0.20,0.3),(2004.70,-0.86,0.3),(2004.75,0.40,0.3),(2004.80,-0.20,0.3),(2004.85,0.80,0.3),(2004.88,0.65,0.3),(2004.92,-0.64,0.3),(2004.95,0.05,0.3),(2005.00,0.30,0.3),(2005.05,-0.30,0.3),(2005.12,0.55,0.3),(2005.20,0.10,0.25),(2005.28,-0.20,0.25),(2005.38,0.25,0.25),(2005.48,-0.05,0.2),(2005.58,0.10,0.2),(2005.70,-0.15,0.2),(2005.82,0.05,0.2),(2005.95,-0.10,0.2),(2006.08,0.10,0.2),(2006.20,-0.05,0.2),(2006.32,0.05,0.2),(2006.45,-0.15,0.2),(2006.58,0.10,0.2),(2006.70,-0.05,0.2),(2006.80,-0.40,0.2),(2006.90,0.40,0.25),(2007.00,0.00,0.2),(2007.12,-0.10,0.2),(2007.25,0.10,0.2),(2007.38,-0.05,0.2),(2007.50,0.05,0.2),(2007.62,-0.15,0.2),(2007.72,-0.45,0.25),(2007.82,0.00,0.2),(2007.95,-0.10,0.2),(2008.05,0.05,0.2),(2008.20,0.40,0.25),(2008.30,-0.10,0.2),(2008.42,0.05,0.2),(2008.55,-0.10,0.2),(2008.65,0.10,0.2),(2008.75,-0.40,1.05),(2008.85,0.00,0.2),(2008.98,-0.10,0.2),(2009.10,0.05,0.2),(2009.22,-0.15,0.2),(2009.35,0.00,0.2),(2009.48,-0.10,0.2),(2009.60,0.05,0.2),(2009.72,-0.15,0.2),(2009.85,0.40,0.2),(2009.95,-0.05,0.2),(2010.08,0.05,0.2),(2010.20,-0.10,0.2),(2010.32,0.00,0.2),(2010.45,-0.15,0.2),(2010.55,-0.20,0.2),(2010.68,0.00,0.2),(2010.80,-0.10,0.2),(2010.92,-0.25,0.2),(2011.05,-0.05,0.2),(2011.18,-0.10,0.2)]

J1909_3744 = [(2002.90,0.55,0.15),(2003.00,0.15,0.2),(2003.10,-0.12,0.2),(2003.25,0.30,0.2),(2003.35,-0.05,0.25),(2003.45,-0.35,0.25),(2003.55,0.20,0.2),(2003.65,-0.64,0.2),(2003.75,0.05,0.2),(2003.85,-0.25,0.2),(2003.95,0.35,0.2),(2004.02,-0.10,0.25),(2004.10,0.20,0.25),(2004.18,-0.64,0.25),(2004.25,0.45,0.3),(2004.30,1.07,0.2),(2004.35,0.00,0.3),(2004.42,-0.40,0.3),(2004.48,0.60,0.3),(2004.55,0.15,0.3),(2004.62,-0.25,0.25),(2004.70,0.30,0.25),(2004.78,-0.05,0.2),(2004.88,0.90,0.2),(2004.95,0.20,0.2),(2005.05,0.70,0.2),(2005.12,-0.05,0.15),(2005.25,0.10,0.15),(2005.40,0.00,0.1),(2005.55,0.05,0.1),(2005.70,0.00,0.1),(2005.85,0.08,0.1),(2006.00,0.02,0.1),(2006.15,0.08,0.1),(2006.30,0.03,0.1),(2006.45,0.08,0.1),(2006.60,0.02,0.1),(2006.75,0.10,0.1),(2006.90,0.05,0.1),(2007.05,0.08,0.1),(2007.20,0.03,0.1),(2007.35,-0.27,0.1),(2007.50,0.05,0.1),(2007.65,0.08,0.1),(2007.80,0.03,0.1),(2007.95,0.08,0.1),(2008.10,0.05,0.1),(2008.25,0.10,0.1),(2008.40,0.05,0.1),(2008.55,0.08,0.1),(2008.70,0.03,0.1),(2008.85,0.08,0.1),(2009.00,0.05,0.1),(2009.15,0.08,0.1),(2009.30,0.03,0.1),(2009.45,0.08,0.1),(2009.60,0.05,0.1),(2009.75,0.08,0.1),(2009.90,0.03,0.1),(2010.05,0.06,0.1),(2010.20,0.03,0.1),(2010.35,0.06,0.1),(2010.50,0.02,0.1),(2010.65,0.05,0.1),(2010.80,0.00,0.1),(2010.95,0.02,0.1),(2011.10,-0.05,0.1),(2011.18,-0.02,0.1)]

J2124_3358 = [(1994.40,0.27,0.15),(1994.45,0.70,0.15),(1994.50,0.10,0.15),(1994.55,0.50,0.15),(1994.65,-0.03,0.15),(1994.80,-0.18,0.45),(1994.95,0.55,0.3),(1995.00,-0.40,0.3),(1995.05,0.12,0.3),(1995.12,-0.10,0.3),(1995.55,0.64,0.15),(1995.60,-0.18,0.15),(1995.65,0.12,0.15),(1995.95,0.30,0.2),(1996.00,0.05,0.2),(1996.05,-0.25,0.2),(1996.12,0.40,0.2),(1996.18,-0.10,0.2),(1996.25,0.20,0.2),(1996.32,-0.40,0.2),(1996.38,0.05,0.2),(1996.45,0.35,0.2),(1996.52,-0.20,0.2),(1996.58,0.15,0.2),(1996.65,-0.55,0.2),(1996.72,0.10,0.2),(1996.80,-0.15,0.2),(1996.88,0.30,0.2),(1996.95,-0.05,0.2),(1997.05,0.15,0.2),(1997.12,-0.20,0.2),(1997.55,0.20,0.2),(1997.62,-0.55,0.2),(1997.70,-0.18,0.2),(1998.05,0.15,0.2),(1998.20,-0.15,0.2),(1998.35,0.05,0.2),(1998.60,0.56,0.2),(1998.62,-0.40,0.2),(1998.65,0.00,0.2),(1998.95,0.05,0.2),(1999.05,-0.33,0.2),(1999.10,-0.92,0.2),(1999.40,-0.15,0.1),(2000.10,-0.15,0.1),(2000.70,0.00,0.1),(2000.90,0.34,0.3),(2000.95,-0.30,0.3),(2001.05,0.00,0.3),(2001.20,0.20,0.2),(2001.30,-0.10,0.2),(2001.45,-0.55,0.3),(2001.55,0.10,0.2),(2001.70,0.25,0.2),(2001.85,0.05,0.2),(2002.35,0.22,0.1),(2002.85,0.22,0.1),(2003.40,0.20,0.1),(2003.70,0.18,0.1),(2004.20,0.15,0.1),(2004.35,0.10,0.1),(2004.50,0.20,0.1),(2004.65,0.10,0.1),(2004.80,0.18,0.1),(2004.95,0.12,0.1),(2005.10,0.15,0.1),(2005.25,0.10,0.1),(2005.40,0.15,0.1),(2005.55,0.12,0.1),(2005.70,0.15,0.1),(2005.85,0.10,0.1),(2006.00,0.15,0.1),(2006.15,0.12,0.1),(2006.30,0.15,0.1),(2006.45,0.10,0.1),(2006.60,0.12,0.1),(2006.75,0.08,0.1),(2006.90,0.12,0.1),(2007.05,0.10,0.1),(2007.20,0.05,0.1),(2007.35,0.12,0.1),(2007.55,-0.33,0.1),(2007.65,0.05,0.1),(2007.80,0.10,0.1),(2007.95,0.05,0.1),(2008.10,0.08,0.1),(2008.25,-0.33,0.1),(2008.40,0.05,0.1),(2008.55,0.10,0.1),(2008.70,0.05,0.1),(2008.85,0.08,0.1),(2009.00,0.05,0.1),(2009.15,0.10,0.1),(2009.30,0.05,0.1),(2009.45,0.08,0.1),(2009.60,0.10,0.1),(2009.75,0.08,0.1),(2009.90,0.12,0.1),(2010.05,0.10,0.1),(2010.20,0.12,0.1),(2010.35,0.10,0.1),(2010.50,0.12,0.1),(2010.65,0.12,0.1),(2010.80,0.15,0.1),(2010.95,0.12,0.1),(2011.10,0.15,0.1),(2011.18,0.12,0.1)]

J2129_5721 = [(1995.80,0.27,0.1),(1996.00,0.12,0.2),(1996.05,0.78,0.2),(1996.10,-0.25,0.2),(1996.18,0.48,0.2),(1996.25,-0.33,0.2),(1996.45,0.33,0.2),(1996.55,-0.18,0.2),(1996.65,0.12,0.2),(1996.75,0.05,0.2),(1997.05,0.42,0.2),(1997.10,0.12,0.2),(1997.15,0.64,0.2),(1997.70,0.05,0.2),(1997.72,-0.25,0.2),(1997.95,0.50,0.15),(1998.30,0.20,0.2),(2000.95,0.12,0.15),(2001.05,-0.03,0.15),(2001.20,0.35,0.2),(2001.28,0.05,0.2),(2001.35,-0.20,0.2),(2001.42,0.20,0.2),(2001.50,-0.40,0.2),(2001.58,0.10,0.2),(2001.65,-0.15,0.2),(2001.75,0.25,0.2),(2001.85,-0.05,0.2),(2001.95,-0.25,0.2),(2002.05,0.27,0.15),(2002.15,-0.18,0.15),(2002.40,0.20,0.1),(2002.95,-0.10,0.1),(2003.35,-0.08,0.1),(2003.55,-0.13,0.1),(2004.20,0.12,0.1),(2005.30,0.42,0.1),(2005.45,0.05,0.1),(2005.60,0.20,0.2),(2005.70,-0.10,0.2),(2005.80,0.15,0.2),(2005.90,-0.20,0.2),(2006.00,0.10,0.2),(2006.10,-0.05,0.2),(2006.20,0.25,0.2),(2006.30,0.56,0.2),(2006.40,0.00,0.2),(2006.50,-0.25,0.2),(2006.60,0.10,0.2),(2006.70,-0.15,0.2),(2006.80,-0.30,0.2),(2006.90,-0.40,0.45),(2007.00,0.05,0.2),(2007.10,-0.20,0.2),(2007.20,0.15,0.2),(2007.30,-0.10,0.2),(2007.40,0.05,0.2),(2007.50,-0.15,0.2),(2007.60,0.10,0.2),(2007.70,-0.05,0.2),(2007.80,0.15,0.2),(2007.90,-0.10,0.2),(2008.00,0.05,0.2),(2008.10,-0.15,0.2),(2008.20,0.10,0.2),(2008.30,-0.05,0.2),(2008.40,0.15,0.2),(2008.50,-0.10,0.2),(2008.60,0.05,0.2),(2008.70,-0.20,0.2),(2008.80,0.10,0.2),(2008.90,-0.05,0.2),(2009.00,0.15,0.2),(2009.10,-0.10,0.2),(2009.15,0.63,0.6),(2009.22,-0.62,0.3),(2009.27,-0.92,0.4),(2009.35,0.05,0.2),(2009.45,-0.10,0.2),(2009.55,0.71,0.6),(2009.62,0.64,0.6),(2009.68,-0.40,0.3),(2009.75,0.05,0.2),(2009.85,-0.10,0.2),(2009.95,0.10,0.2),(2010.05,-0.05,0.2),(2010.15,0.05,0.2),(2010.25,-0.10,0.2),(2010.35,0.10,0.2),(2010.45,-0.05,0.2),(2010.55,0.00,0.2),(2010.65,0.10,0.2),(2010.75,-0.10,0.2),(2010.85,0.05,0.2),(2010.95,-0.05,0.2),(2011.05,0.05,0.2),(2011.15,0.00,0.2)]

J2145_0750 = [(1994.40,-0.05,0.3),(1994.45,0.44,0.3),(1994.50,-0.44,0.3),(1994.55,0.20,0.3),(1994.80,0.22,0.2),(1994.85,-0.07,0.2),(1995.00,0.22,0.15),(1995.10,0.07,0.15),(1995.55,0.30,0.2),(1995.62,-0.22,0.2),(1995.70,0.00,0.2),(1995.80,0.10,0.2),(1996.00,-0.05,0.2),(1996.05,-0.30,0.2),(1996.12,0.05,0.2),(1996.20,-0.20,0.2),(1996.30,0.10,0.2),(1996.38,-0.15,0.2),(1996.45,0.05,0.2),(1996.52,-0.35,0.2),(1996.60,0.37,0.3),(1996.65,0.00,0.2),(1996.72,-0.52,0.25),(1996.80,-0.10,0.2),(1996.90,-0.05,0.2),(1997.05,-0.07,0.15),(1997.70,0.00,0.15),(1997.80,-0.10,0.15),(1997.90,-0.20,0.15),(1998.05,-0.15,0.15),(1998.15,-0.05,0.15),(1998.35,-0.10,0.15),(1998.65,0.05,0.15),(1998.75,-0.10,0.15),(1998.95,0.00,0.15),(1999.05,-0.15,0.15),(2000.10,0.15,0.15),(2000.65,0.07,0.1),(2000.95,0.10,0.1),(2001.10,0.05,0.1),(2001.25,0.20,0.1),(2001.35,-0.05,0.15),(2001.50,0.10,0.15),(2001.65,-0.15,0.15),(2001.75,0.52,0.1),(2001.85,0.05,0.1),(2002.10,-0.10,0.1),(2002.55,-0.07,0.1),(2003.00,0.08,0.1),(2003.50,0.05,0.1),(2004.15,0.05,0.1),(2004.25,-0.15,0.1),(2004.35,0.10,0.1),(2004.45,-0.05,0.1),(2004.55,0.15,0.1),(2004.65,-0.10,0.1),(2004.75,0.60,0.1),(2004.85,0.00,0.1),(2004.95,-0.15,0.1),(2005.05,0.10,0.1),(2005.15,-0.05,0.1),(2005.25,0.05,0.1),(2005.35,-0.20,0.1),(2005.45,0.15,0.15),(2005.55,-0.10,0.15),(2005.65,0.05,0.15),(2005.75,-0.15,0.15),(2005.85,0.10,0.15),(2005.95,-0.25,0.2),(2006.05,0.00,0.15),(2006.12,-0.37,0.6),(2006.20,0.10,0.15),(2006.30,-0.10,0.15),(2006.40,0.05,0.15),(2006.50,-0.05,0.15),(2006.60,0.10,0.15),(2006.70,-0.10,0.15),(2006.80,0.05,0.15),(2006.90,0.52,0.15),(2007.00,-0.05,0.15),(2007.10,0.05,0.15),(2007.20,-0.10,0.15),(2007.30,0.10,0.15),(2007.40,-0.05,0.15),(2007.50,0.05,0.15),(2007.60,-0.10,0.15),(2007.70,-0.52,0.2),(2007.80,0.00,0.15),(2007.90,0.10,0.15),(2008.00,-0.05,0.15),(2008.10,0.05,0.15),(2008.20,-0.10,0.15),(2008.30,0.05,0.15),(2008.40,-0.05,0.2),(2008.50,0.10,0.2),(2008.60,-0.89,0.35),(2008.70,-0.85,0.35),(2008.80,-0.80,0.35),(2008.85,0.15,0.2),(2008.95,-0.10,0.2),(2009.05,0.05,0.2),(2009.15,-0.05,0.2),(2009.25,0.10,0.25),(2009.35,-0.15,0.2),(2009.45,0.05,0.2),(2009.55,-0.10,0.2),(2009.65,-1.04,0.7),(2009.75,0.05,0.2),(2009.85,-0.05,0.2),(2009.95,0.10,0.2),(2010.05,-0.10,0.2),(2010.15,0.05,0.2),(2010.25,-0.05,0.2),(2010.35,0.10,0.2),(2010.45,-0.05,0.2),(2010.55,0.05,0.2),(2010.65,-0.30,0.2),(2010.75,0.00,0.2),(2010.85,0.05,0.2),(2010.95,-0.05,0.2),(2011.05,0.05,0.2),(2011.15,0.00,0.2)]

SERIES = [J0437_4715, J0613_0200, J0711_6830, J1022_1001, J1024_0719, J1045_4509,
          J1600_3053, J1603_7202, J1643_1224, J1713_0747, J1730_2304, J1732_5049,
          J1744_1134, J1824_2452A, J1857_0943, J1909_3744, J2124_3358, J2129_5721,
          J2145_0750]

ZERO_LINE_SPAN = [1994.07, 2011.5]

# ---------------- figure ----------------
N = len(PULSARS)
X_RANGE = [1992.38, 2016.29]
INK = "#1e1e1e"
FONT = "DejaVu Serif"
HALF = 0.5  # half panel height in axis units
LABEL_X = 2012.33

fig = go.Figure()
shapes = []
annotations = []

for k, (name, scale, data) in enumerate(zip(PULSARS, SCALES_US, SERIES)):
    center = N - 0.5 - k
    t = [d[0] for d in data]
    y = [center + HALF * d[1] for d in data]
    e = [HALF * d[2] for d in data]
    fig.add_trace(go.Scatter(
        x=ZERO_LINE_SPAN, y=[center, center], mode="lines",
        line=dict(color="#555555", width=1.6, dash="1.6px,7.4px"),
        hoverinfo="skip", showlegend=False))
    fig.add_trace(go.Scatter(
        x=t, y=y, mode="markers",
        marker=dict(symbol="square", size=7, color=INK, line=dict(width=0)),
        error_y=dict(type="data", array=e, visible=True, color=INK,
                     thickness=1.2, width=2.5),
        cliponaxis=False, showlegend=False, name=name))
    top = N - k
    name_size = 13.4 if len(name) > 10 else 14.6
    annotations.append(dict(x=LABEL_X, y=top - 0.31, xref="x", yref="y",
                            text=name, showarrow=False, xanchor="left",
                            yanchor="middle",
                            font=dict(family=FONT, size=name_size, color=INK)))
    annotations.append(dict(x=LABEL_X, y=top - 0.78, xref="x", yref="y",
                            text=scale + "<i>\u03bc</i>s", showarrow=False,
                            xanchor="left", yanchor="middle",
                            font=dict(family=FONT, size=15.5, color=INK)))
    if k > 0:
        shapes.append(dict(type="line", xref="paper", yref="y", x0=0, x1=1,
                           y0=top, y1=top, line=dict(color="#555555", width=1.3)))

annotations.append(dict(x=2002.64, y=-0.058, xref="x", yref="paper", text="Year",
                        showarrow=False, xanchor="center", yanchor="middle",
                        font=dict(family=FONT, size=16, color=INK)))

fig.update_layout(
    width=640, height=919,
    margin=dict(l=6, r=0, t=3, b=61),
    paper_bgcolor="white", plot_bgcolor="white",
    shapes=shapes, annotations=annotations,
    showlegend=False,
    xaxis=dict(range=X_RANGE, showgrid=False, zeroline=False,
               showline=True, linecolor="#333333", linewidth=1.3, mirror="ticks",
               tickvals=MAJOR_YEARS, ticktext=[str(v) for v in MAJOR_YEARS],
               ticks="inside", ticklen=8, tickwidth=1.2, tickcolor="#333333",
               minor=dict(tickvals=MINOR_YEARS, ticks="inside", ticklen=4,
                          tickwidth=1.2, tickcolor="#333333", showgrid=False),
               tickfont=dict(family=FONT, size=16, color=INK)),
    yaxis=dict(range=[0, N], showgrid=False, zeroline=False, showticklabels=False,
               showline=True, linecolor="#333333", linewidth=1.3, ticks=""),
)

fig.write_html("out.html", config={"displayModeBar": False},
               post_script="document.body.style.margin='0';document.body.style.overflow='hidden';")
